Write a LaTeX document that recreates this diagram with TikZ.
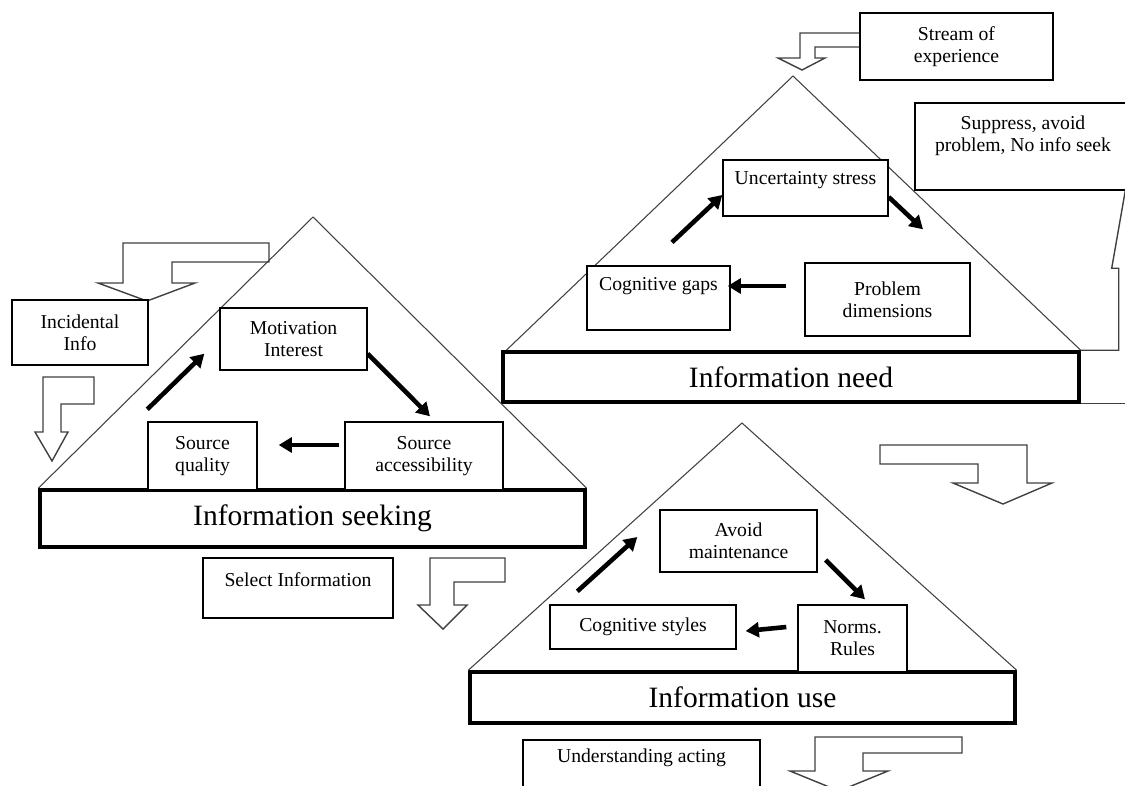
\documentclass[tikz,border=0pt]{standalone}
\usepackage{fontspec}
\setmainfont{Liberation Serif}
\usetikzlibrary{arrows.meta}
\newcommand{\boxfont}{\fontsize{11.2}{12.6}\selectfont}
\newcommand{\barfont}{\fontsize{16.8}{20}\selectfont}
\tikzset{
  box/.style={draw, line width=0.8pt, fill=white, inner sep=0pt, align=center, font=\boxfont},
  bar/.style={draw, line width=2pt, fill=white, inner sep=0pt, font=\barfont},
  toplbl/.style={anchor=north, yshift=-3.5pt, align=center, font=\boxfont},
  tri/.style={draw=black!75, line width=0.6pt},
  hollow/.style={draw=black!75, line width=0.8pt, fill=white},
  flow/.style={line width=2.6pt, -{Triangle[length=7.5pt,width=8.5pt]}},
}
\begin{document}
\begin{tikzpicture}[x=0.02cm, y=-0.02cm]
\useasboundingbox (0,0) rectangle (1125,785);
\clip (0,0) rectangle (1125,785);

% hollow block arrows
\draw[hollow] (123,243) -- (269,243) -- (269,262) -- (172,262) -- (172,283) -- (195,283) -- (147,301) -- (98,283) -- (123,283) -- cycle;
\draw[hollow] (43,377) -- (94,377) -- (94,404) -- (61,404) -- (61,432) -- (68,432) -- (52,461) -- (35,432) -- (43,432) -- cycle;
\draw[hollow] (430,558) -- (505,558) -- (505,582) -- (454,582) -- (454,605) -- (467,605) -- (443,629) -- (418,605) -- (430,605) -- cycle;
\draw[hollow] (860,33) -- (800,33) -- (800,58) -- (778,58) -- (802,70) -- (825,58) -- (815,58) -- (815,47) -- (860,47) -- cycle;
\draw[hollow] (880,445) -- (1027,445) -- (1027,483) -- (1052,483) -- (1003,504) -- (953,483) -- (978,483) -- (978,464) -- (880,464) -- cycle;
\draw[hollow] (815,737) -- (962,737) -- (962,753) -- (863,753) -- (863,771) -- (888,771) -- (839,791) -- (790,771) -- (815,771) -- cycle;

% the three levels
\node[bar, minimum width=10.9cm, minimum height=1.14cm] (seekbar) at (312.5,518.5) {Information seeking};
\node[bar, minimum width=11.52cm, minimum height=1cm] (needbar) at (791,377) {Information need};
\node[bar, minimum width=10.9cm, minimum height=1.02cm] (usebar) at (742.5,697.5) {Information use};
\draw[tri] (seekbar.north west) -- (313,217) -- (seekbar.north east);
\draw[tri] ([shift={(5,0)}]needbar.north west) -- (793,76) -- (needbar.north east);
\draw[tri] (usebar.north west) -- (742,423) -- (usebar.north east);

% seeking
\node[box, minimum width=2.72cm, minimum height=1.3cm] (incid) at (80,332.5) {Incidental\\Info};
\node[box, minimum width=2.94cm, minimum height=1.24cm] (motiv) at (293.5,339) {Motivation\\Interest};
\node[box, minimum width=2.18cm, minimum height=1.36cm] (quality) at (202.5,456) {Source\\quality};
\node[box, minimum width=3.16cm, minimum height=1.36cm] (access) at (424,456) {Source\\accessibility};
\node[box, minimum width=3.8cm, minimum height=1.2cm, label={[toplbl, yshift=-1.5pt]north:Select Information}] (select) at (298,588) {};

% need
\node[box, minimum width=3.86cm, minimum height=1.34cm] (stream) at (956.5,46.5) {Stream of\\experience};
\node[box, minimum width=4.32cm, minimum height=1.74cm, label={[toplbl, yshift=-0.5pt]north:{Suppress, avoid\\problem, No info seek}}] (suppress) at (1023,146.5) {};
\node[box, minimum width=3.3cm, minimum height=1.12cm, label={[toplbl]north:Uncertainty stress}] (uncert) at (805.5,188) {};
\node[box, minimum width=2.86cm, minimum height=1.28cm, label={[toplbl]north:Cognitive gaps}] (gaps) at (658.5,298) {};
\node[box, minimum width=3.3cm, minimum height=1.46cm] (probl) at (887.5,299.5) {Problem\\dimensions};

% use
\node[box, minimum width=3.14cm, minimum height=1.24cm] (avoid) at (738.5,541) {Avoid\\maintenance};
\node[box, minimum width=3.72cm, minimum height=0.88cm] (styles) at (643,627) {Cognitive styles};
\node[box, minimum width=2.18cm, minimum height=1.34cm] (norms) at (852.5,638.5) {Norms.\\Rules};
\node[box, minimum width=4.74cm, minimum height=1.2cm, label={[toplbl, yshift=1.5pt]north:Understanding acting}] (underst) at (641.5,770) {};

% cycles
\draw[flow] ([shift={(0,-12)}]quality.north west) -- ([shift={(-15,-17)}]motiv.south west);
\draw[flow] ([shift={(0,-17)}]motiv.south east) -- ([shift={(6,-5)}]access.north);
\draw[flow] ([shift={(-5,-11)}]access.west) -- ([shift={(21,-11)}]quality.east);
\draw[flow] ([shift={(13.5,-23)}]gaps.north) -- ([shift={(0,7)}]uncert.west);
\draw[flow] ([shift={(0,9)}]uncert.east) -- ([shift={(35.5,-33)}]probl.north);
\draw[flow] ([shift={(-18,-13.5)}]probl.west) -- ([shift={(-3,-12)}]gaps.east);
\draw[flow] ([shift={(28,-13)}]styles.north west) -- ([shift={(-22,-4)}]avoid.west);
\draw[flow] ([shift={(8,19)}]avoid.east) -- ([shift={(12.5,-5)}]norms.north);
\draw[flow] ([shift={(-11,-11.5)}]norms.west) -- ([shift={(9,4)}]styles.east);

% feedback at the right edge
\draw[hollow, fill=none] (needbar.north east) -- ++(38,0) -- ++(0,-82) -- ++(-7,0) -- ++(14,-80) -- ++(14,80);
\draw[hollow] (needbar.south east) -- ++(60,0);
\end{tikzpicture}
\end{document}
